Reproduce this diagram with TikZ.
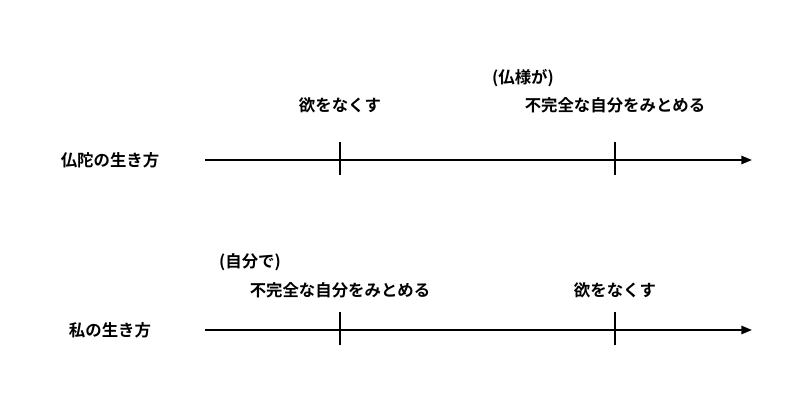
\documentclass[tikz,border=0pt]{standalone}
\usepackage{fontspec}
\newfontfamily\cjk{Noto Sans CJK JP}[BoldFont={Noto Sans CJK JP Bold}]
\usetikzlibrary{arrows.meta, positioning}
\begin{document}
\begin{tikzpicture}[x=0.03cm, y=-0.03cm, >={Triangle[length=9pt,width=7pt]},
    lbl/.style={font=\cjk\bfseries\fontsize{14}{17}\selectfont, inner sep=0pt},
    axis/.style={->, line width=1.6pt},
    tick/.style={line width=1.6pt}]
  \useasboundingbox (0,0) rectangle (800,419);
  % 上: 仏陀
  \node[lbl] (budL) at (110,160) {仏陀の生き方};
  \coordinate (budS) at (205,160);
  \coordinate (budE) at (752,160);
  \draw[axis] (budS) -- (budE);
  \coordinate (budA) at (340,160);
  \coordinate (budB) at (615,160);
  \draw[tick] ([yshift=-0.45cm]budA) -- ([yshift=0.55cm]budA);
  \draw[tick] ([yshift=-0.45cm]budB) -- ([yshift=0.55cm]budB);
  \node[lbl] (budT1) at (340,105) {欲をなくす};
  \node[lbl] (budT2) at (615,105) {不完全な自分をみとめる};
  \node[lbl, anchor=west] (budT3) at (492,78) {(仏様が)};
  % 下: 私
  \node[lbl] (myL) at (110,330) {私の生き方};
  \coordinate (myS) at (205,330);
  \coordinate (myE) at (752,330);
  \draw[axis] (myS) -- (myE);
  \coordinate (myA) at (340,330);
  \coordinate (myB) at (615,330);
  \draw[tick] ([yshift=-0.45cm]myA) -- ([yshift=0.55cm]myA);
  \draw[tick] ([yshift=-0.45cm]myB) -- ([yshift=0.55cm]myB);
  \node[lbl] (myT1) at (340,290) {不完全な自分をみとめる};
  \node[lbl, anchor=west] (myT2) at (219,262) {(自分で)};
  \node[lbl] (myT3) at (615,290) {欲をなくす};
\end{tikzpicture}
\end{document}
